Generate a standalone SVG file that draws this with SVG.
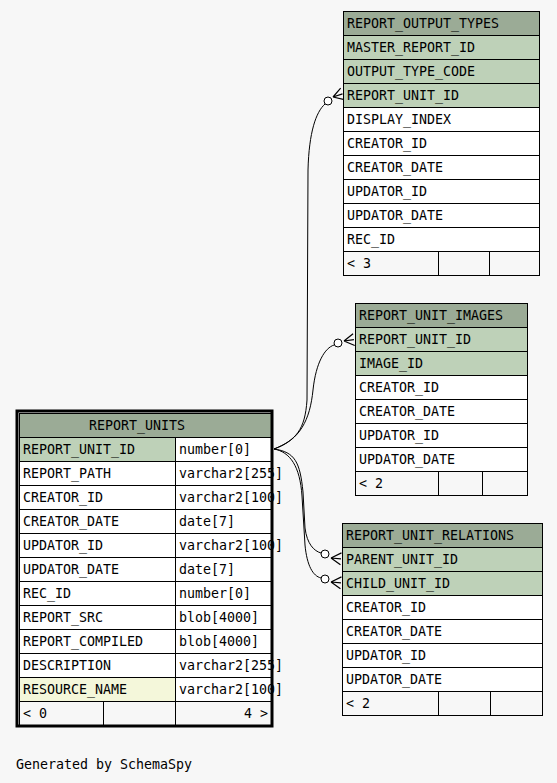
<svg xmlns="http://www.w3.org/2000/svg" width="557" height="783" viewBox="0 0 557 783">
<style>
text{font-family:"DejaVu Sans Mono","Liberation Mono",monospace;font-size:13.3px;fill:#000}
.c{stroke:#000;stroke-width:1;fill:#fff}
.h{fill:#9bab96}
.k{fill:#bed1b8}
.r{fill:#f4f7da}
.f{fill:#f7f7f7}
.e{fill:none;stroke:#000;stroke-width:1}
.o{fill:#fff;stroke:#000;stroke-width:1}
</style>
<defs>
<g id="crow"><path d="M0,0 L10,-6 M0,0 L10,0 M0,0 L10,6" fill="none" stroke="#000" stroke-width="1.2"/></g>
</defs>
<rect width="557" height="783" fill="#f7f7f7"/>

<g id="connectors">
<path class="e" d="M274,449 C296,440 305,430 307,400 L308,170 C309,132 316,112 325,104"/>
<path class="e" d="M274,449 C300,440 310,420 313,390 C316,362 325,348 334,345"/>
<path class="e" d="M274,449 C295,452 300,462 303,492 L305,528 C307,544 314,551 321,553"/>
<path class="e" d="M274,449 C290,452 300,466 302,496 L305,545 C307,566 313,576 321,578"/>
<circle class="o" cx="328" cy="101" r="4"/>
<use href="#crow" transform="translate(333,97) rotate(-18)"/>
<circle class="o" cx="338" cy="343" r="4"/>
<use href="#crow" transform="translate(344,341) rotate(-8)"/>
<circle class="o" cx="325" cy="554" r="4"/>
<use href="#crow" transform="translate(331,558) rotate(5)"/>
<circle class="o" cx="325" cy="579" r="4"/>
<use href="#crow" transform="translate(331,582) rotate(5)"/>
</g>

<g id="report_output_types">
<rect class="c h" x="343.5" y="11.5" width="196" height="24"/>
<rect class="c k" x="343.5" y="35.5" width="196" height="24"/>
<rect class="c k" x="343.5" y="59.5" width="196" height="24"/>
<rect class="c k" x="343.5" y="83.5" width="196" height="24"/>
<rect class="c" x="343.5" y="107.5" width="196" height="24"/>
<rect class="c" x="343.5" y="131.5" width="196" height="24"/>
<rect class="c" x="343.5" y="155.5" width="196" height="24"/>
<rect class="c" x="343.5" y="179.5" width="196" height="24"/>
<rect class="c" x="343.5" y="203.5" width="196" height="24"/>
<rect class="c" x="343.5" y="227.5" width="196" height="24"/>
<rect class="c f" x="343.5" y="251.5" width="95" height="24"/>
<rect class="c f" x="438.5" y="251.5" width="51" height="24"/>
<rect class="c f" x="489.5" y="251.5" width="50" height="24"/>
<text x="347" y="28">REPORT_OUTPUT_TYPES</text>
<text x="347" y="52">MASTER_REPORT_ID</text>
<text x="347" y="76">OUTPUT_TYPE_CODE</text>
<text x="347" y="100">REPORT_UNIT_ID</text>
<text x="347" y="124">DISPLAY_INDEX</text>
<text x="347" y="148">CREATOR_ID</text>
<text x="347" y="172">CREATOR_DATE</text>
<text x="347" y="196">UPDATOR_ID</text>
<text x="347" y="220">UPDATOR_DATE</text>
<text x="347" y="244">REC_ID</text>
<text x="347" y="268">&lt; 3</text>
</g>

<g id="report_unit_images">
<rect class="c h" x="355.5" y="303.5" width="172" height="24"/>
<rect class="c k" x="355.5" y="327.5" width="172" height="24"/>
<rect class="c k" x="355.5" y="351.5" width="172" height="24"/>
<rect class="c" x="355.5" y="375.5" width="172" height="24"/>
<rect class="c" x="355.5" y="399.5" width="172" height="24"/>
<rect class="c" x="355.5" y="423.5" width="172" height="24"/>
<rect class="c" x="355.5" y="447.5" width="172" height="24"/>
<rect class="c f" x="355.5" y="471.5" width="83" height="24"/>
<rect class="c f" x="438.5" y="471.5" width="44" height="24"/>
<rect class="c f" x="482.5" y="471.5" width="45" height="24"/>
<text x="359" y="320">REPORT_UNIT_IMAGES</text>
<text x="359" y="344">REPORT_UNIT_ID</text>
<text x="359" y="368">IMAGE_ID</text>
<text x="359" y="392">CREATOR_ID</text>
<text x="359" y="416">CREATOR_DATE</text>
<text x="359" y="440">UPDATOR_ID</text>
<text x="359" y="464">UPDATOR_DATE</text>
<text x="359" y="488">&lt; 2</text>
</g>

<g id="report_unit_relations">
<rect class="c h" x="342.5" y="523.5" width="200" height="24"/>
<rect class="c k" x="342.5" y="547.5" width="200" height="24"/>
<rect class="c k" x="342.5" y="571.5" width="200" height="24"/>
<rect class="c" x="342.5" y="595.5" width="200" height="24"/>
<rect class="c" x="342.5" y="619.5" width="200" height="24"/>
<rect class="c" x="342.5" y="643.5" width="200" height="24"/>
<rect class="c" x="342.5" y="667.5" width="200" height="24"/>
<rect class="c f" x="342.5" y="691.5" width="96" height="24"/>
<rect class="c f" x="438.5" y="691.5" width="52" height="24"/>
<rect class="c f" x="490.5" y="691.5" width="52" height="24"/>
<text x="346" y="540">REPORT_UNIT_RELATIONS</text>
<text x="346" y="564">PARENT_UNIT_ID</text>
<text x="346" y="588">CHILD_UNIT_ID</text>
<text x="346" y="612">CREATOR_ID</text>
<text x="346" y="636">CREATOR_DATE</text>
<text x="346" y="660">UPDATOR_ID</text>
<text x="346" y="684">UPDATOR_DATE</text>
<text x="346" y="708">&lt; 2</text>
</g>

<g id="report_units">
<rect class="c h" x="19.5" y="413.5" width="252" height="24"/>
<rect class="c k" x="19.5" y="437.5" width="156" height="24"/>
<rect class="c" x="175.5" y="437.5" width="96" height="24"/>
<rect class="c" x="19.5" y="461.5" width="156" height="24"/>
<rect class="c" x="175.5" y="461.5" width="96" height="24"/>
<rect class="c" x="19.5" y="485.5" width="156" height="24"/>
<rect class="c" x="175.5" y="485.5" width="96" height="24"/>
<rect class="c" x="19.5" y="509.5" width="156" height="24"/>
<rect class="c" x="175.5" y="509.5" width="96" height="24"/>
<rect class="c" x="19.5" y="533.5" width="156" height="24"/>
<rect class="c" x="175.5" y="533.5" width="96" height="24"/>
<rect class="c" x="19.5" y="557.5" width="156" height="24"/>
<rect class="c" x="175.5" y="557.5" width="96" height="24"/>
<rect class="c" x="19.5" y="581.5" width="156" height="24"/>
<rect class="c" x="175.5" y="581.5" width="96" height="24"/>
<rect class="c" x="19.5" y="605.5" width="156" height="24"/>
<rect class="c" x="175.5" y="605.5" width="96" height="24"/>
<rect class="c" x="19.5" y="629.5" width="156" height="24"/>
<rect class="c" x="175.5" y="629.5" width="96" height="24"/>
<rect class="c" x="19.5" y="653.5" width="156" height="24"/>
<rect class="c" x="175.5" y="653.5" width="96" height="24"/>
<rect class="c r" x="19.5" y="677.5" width="156" height="24"/>
<rect class="c" x="175.5" y="677.5" width="96" height="24"/>
<rect class="c f" x="19.5" y="701.5" width="84" height="24"/>
<rect class="c f" x="103.5" y="701.5" width="72" height="24"/>
<rect class="c f" x="175.5" y="701.5" width="96" height="24"/>
<text x="137" y="430" text-anchor="middle">REPORT_UNITS</text>
<text x="23" y="454">REPORT_UNIT_ID</text>
<text x="179" y="454">number[0]</text>
<text x="23" y="478">REPORT_PATH</text>
<text x="179" y="478">varchar2[255]</text>
<text x="23" y="502">CREATOR_ID</text>
<text x="179" y="502">varchar2[100]</text>
<text x="23" y="526">CREATOR_DATE</text>
<text x="179" y="526">date[7]</text>
<text x="23" y="550">UPDATOR_ID</text>
<text x="179" y="550">varchar2[100]</text>
<text x="23" y="574">UPDATOR_DATE</text>
<text x="179" y="574">date[7]</text>
<text x="23" y="598">REC_ID</text>
<text x="179" y="598">number[0]</text>
<text x="23" y="622">REPORT_SRC</text>
<text x="179" y="622">blob[4000]</text>
<text x="23" y="646">REPORT_COMPILED</text>
<text x="179" y="646">blob[4000]</text>
<text x="23" y="670">DESCRIPTION</text>
<text x="179" y="670">varchar2[255]</text>
<text x="23" y="694">RESOURCE_NAME</text>
<text x="179" y="694">varchar2[100]</text>
<text x="23" y="718">&lt; 0</text>
<text x="268" y="718" text-anchor="end">4 &gt;</text>
<rect x="17" y="411" width="255" height="315" fill="none" stroke="#000" stroke-width="3"/>
</g>

<text x="16" y="769">Generated by SchemaSpy</text>
</svg>
